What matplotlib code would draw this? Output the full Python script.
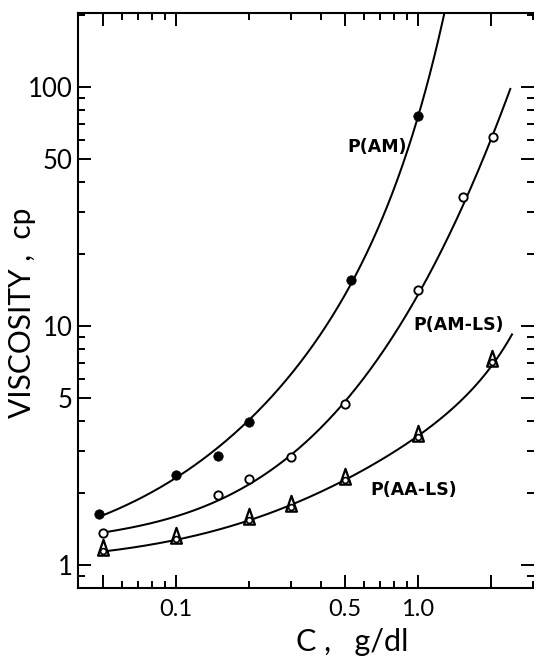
import numpy as np
import matplotlib
matplotlib.use("Agg")
import matplotlib.pyplot as plt
from matplotlib.path import Path
from matplotlib.ticker import FixedLocator, NullFormatter, FixedFormatter

# ---- data ----
am_c = [0.048, 0.10, 0.15, 0.20, 0.53, 1.00]
am_v = [1.63, 2.38, 2.86, 3.95, 15.5, 75.6]
am_end = (1.29, 203.0)

amls_c = [0.05, 0.15, 0.20, 0.30, 0.50, 1.00, 1.53, 2.05]
amls_v = [1.36, 1.97, 2.29, 2.82, 4.72, 14.2, 34.6, 62.0]
amls_end = (2.41, 93.2)

aals_c = [0.05, 0.10, 0.20, 0.30, 0.50, 1.00, 2.02]
aals_v = [1.14, 1.28, 1.54, 1.75, 2.27, 3.44, 7.05]
aals_end = (2.45, 9.02)

series_labels = ["P(AM)", "P(AM-LS)", "P(AA-LS)"]
label_pos = [(0.682, 56.2), (1.48, 10.1), (0.963, 2.06)]

y_major = [1, 5, 10, 50, 100]
y_labels = ["1", "5", "10", "50", "100"]
x_major = [0.05, 0.1, 0.5, 1.0, 2.0]
x_labels = ["", "0.1", "0.5", "1.0", ""]
x_minor = [0.06, 0.07, 0.08, 0.09, 0.2, 0.3, 0.4, 0.6, 0.7, 0.8, 0.9, 3.0]
y_minor = [0.9, 2, 3, 4, 6, 7, 8, 9, 20, 30, 40, 60, 70, 80, 90, 200]

W, H = 534, 660
fig = plt.figure(figsize=(W / 100, H / 100), dpi=100)
ax = fig.add_axes([78.4 / W, (H - 588.3) / H, (W - 78.4) / W, (588.3 - 13.3) / H])
ax.set_xscale("log")
ax.set_yscale("log")
ax.set_xlim(0.0396, 3.02)
ax.set_ylim(0.799, 203.3)


def martin_curve(c, v, end, deg=2):
    """Smooth fit of log((v-1)/c) against c, drawn from first point to end."""
    cc = np.array(list(c) + [end[0]])
    vv = np.array(list(v) + [end[1]])
    p = np.polyfit(cc, np.log10((vv - 1) / cc), deg)
    xx = np.exp(np.linspace(np.log(cc[0]), np.log(cc[-1]), 400))
    return xx, 1 + xx * 10 ** np.polyval(p, xx)


def loglog_curve(c, v, end, deg=3, w=None):
    xs = np.log10(list(c) + [end[0]])
    ys = np.log10(list(v) + [end[1]])
    p = np.polyfit(xs, ys, deg, w=w)
    xx = np.linspace(xs[0], xs[-1], 400)
    return 10 ** xx, 10 ** np.polyval(p, xx)


amls_w = [2, 1, 1, 0.7, 3, 1.5, 1, 1, 1]

lw = 1.45
for xx, yy in [martin_curve(am_c, am_v, am_end),
               loglog_curve(amls_c, amls_v, amls_end, w=amls_w),
               martin_curve(aals_c, aals_v, aals_end)]:
    ax.plot(xx, yy, color="black", lw=lw, zorder=2)

ax.plot(am_c, am_v, "o", ms=6.8, mfc="black", mec="black", mew=0.5, zorder=3)
ax.plot(amls_c, amls_v, "o", ms=6.0, mfc="white", mec="black", mew=1.35, zorder=3)

tri = Path([(0, 1.4), (-0.65, -0.5), (0.65, -0.5), (0, 1.4)],
           [Path.MOVETO, Path.LINETO, Path.LINETO, Path.CLOSEPOLY])
ax.plot(aals_c, aals_v, linestyle="none", marker=tri, ms=16.8, mfc="white",
        mec="black", mew=1.6, zorder=3)
ax.plot(aals_c, aals_v, "o", ms=4.2, mfc="white", mec="black", mew=1.2, zorder=4)

for t, (px, py) in zip(series_labels, label_pos):
    ax.text(px, py, t, ha="center", va="center", fontsize=12.5,
            fontweight="bold", family="DejaVu Sans", zorder=5)

# ticks
ax.xaxis.set_major_locator(FixedLocator(x_major))
ax.xaxis.set_major_formatter(FixedFormatter(x_labels))
ax.xaxis.set_minor_locator(FixedLocator(x_minor))
ax.xaxis.set_minor_formatter(NullFormatter())
ax.yaxis.set_major_locator(FixedLocator(y_major))
ax.yaxis.set_major_formatter(FixedFormatter(y_labels))
ax.yaxis.set_minor_locator(FixedLocator(y_minor))
ax.yaxis.set_minor_formatter(NullFormatter())

ax.tick_params(which="both", direction="in", top=True, right=True, width=1.4)
ax.tick_params(which="major", length=9.5)
ax.tick_params(which="minor", length=5)
ax.tick_params(axis="y", which="major", labelsize=18.5, pad=4)
ax.tick_params(axis="x", which="major", labelsize=17, pad=8)
for lab in ax.get_xticklabels() + ax.get_yticklabels():
    lab.set_family("Lato")
    lab.set_fontweight("normal")

for s in ["left", "bottom", "top"]:
    ax.spines[s].set_linewidth(1.5)
ax.spines["right"].set_visible(False)

fig.text(22 / W, 1 - 313 / H, "VISCOSITY ,  cp", rotation=90, ha="center",
         va="center", fontsize=21.5, family="Lato", fontweight="normal")
fig.text(352 / W, 1 - 642 / H, "C ,   g/dl", ha="center", va="center",
         fontsize=22, family="Lato", fontweight="normal")

fig.savefig("out.png", dpi=100)
